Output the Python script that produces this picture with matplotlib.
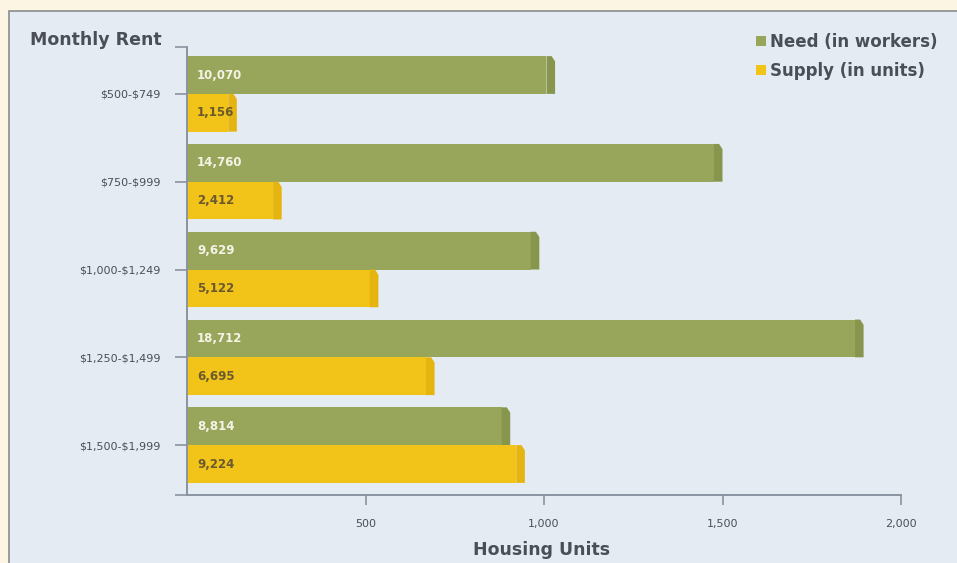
import matplotlib.pyplot as plt
from matplotlib.patches import Rectangle, Polygon, Patch

# данные с картинки
categories = ["$500-$749", "$750-$999", "$1,000-$1,249", "$1,250-$1,499", "$1,500-$1,999"]
need = [10070, 14760, 9629, 18712, 8814]
supply = [1156, 2412, 5122, 6695, 9224]
xticks = [500, 1000, 1500, 2000]
xtick_labels = ["500", "1,000", "1,500", "2,000"]

GREEN = "#97a65a"
GREEN_SIDE = "#87964c"
YELLOW = "#f2c318"
YELLOW_SIDE = "#e6b40f"
PANEL = "#e4ebf3"
TEXT = "#4a4f57"
AXIS = "#8a93a0"

plt.rcParams["font.family"] = ["DejaVu Sans"]
plt.rcParams["text.parse_math"] = False  # иначе $ превращается в mathtext

fig = plt.figure(figsize=(9.57, 5.63), dpi=100)
fig.patch.set_facecolor("#fdf5e4")
fig.patches.append(Rectangle((9 / 957, -0.1), 1.1, 1 - 11 / 563 + 0.1, transform=fig.transFigure,
                             facecolor=PANEL, edgecolor="#8c8c8c", lw=1.2, zorder=-5))

ax = fig.add_axes([187 / 957, 1 - 495 / 563, (901 - 187) / 957, (495 - 47) / 563])
ax.set_facecolor("none")

# в оригинале длина полосы = подпись / 10
scale = 10
depth = 24
h = 0.43
off = 0.215


def bar3d(y, val, face, side):
    w = val / scale
    ax.add_patch(Rectangle((0, y - h / 2), w, h, facecolor=face, edgecolor="none", zorder=2))
    ax.add_patch(Polygon([(w, y - h / 2), (w + depth * 0.6, y - h / 2), (w + depth, y - h / 2 + 0.06),
                          (w + depth, y + h / 2), (w, y + h / 2)],
                         closed=True, facecolor=side, edgecolor="none", zorder=2))


for i, (n, s) in enumerate(zip(need, supply)):
    bar3d(i - off, n, GREEN, GREEN_SIDE)
    bar3d(i + off, s, YELLOW, YELLOW_SIDE)
    ax.text(28, i - off, f"{n:,}", color="#f6f3e6", fontsize=8.5, fontweight="bold",
            va="center", ha="left", zorder=3)
    ax.text(28, i + off, f"{s:,}", color="#6a5a2e", fontsize=8.5, fontweight="bold",
            va="center", ha="left", zorder=3)

ax.set_xlim(0, 2000)
ax.set_ylim(4.568, -0.534)

ax.set_yticks(range(len(categories)))
ax.set_yticklabels(categories, fontsize=8, color=TEXT)
ax.set_yticks([-0.534, 4.568], minor=True)
ax.set_xticks(xticks)
ax.set_xticklabels(xtick_labels, fontsize=8, color=TEXT)

ax.tick_params(axis="y", which="both", length=9, width=1.2, color=AXIS, pad=10)
ax.tick_params(axis="x", length=7, width=1.2, color=AXIS, pad=10)

for side in ["top", "right"]:
    ax.spines[side].set_visible(False)
for side in ["left", "bottom"]:
    ax.spines[side].set_color(AXIS)
    ax.spines[side].set_linewidth(1.4)

fig.text(30 / 957, 1 - 40 / 563, "Monthly Rent", fontsize=12.5, fontweight="bold",
         color=TEXT, ha="left", va="center")
fig.text(542 / 957, 1 - 550 / 563, "Housing Units", fontsize=12.5, fontweight="bold",
         color=TEXT, ha="center", va="center")

handles = [Patch(facecolor=GREEN, edgecolor="none"), Patch(facecolor=YELLOW, edgecolor="none")]
fig.legend(handles, ["Need (in workers)", "Supply (in units)"], loc="upper right",
           bbox_to_anchor=(938 / 957, 1 - 33 / 563), frameon=False, handlelength=0.6,
           handleheight=0.6, handletextpad=0.25, labelspacing=0.65, borderaxespad=0,
           borderpad=0, prop={"size": 12, "weight": "bold"}, labelcolor=TEXT)

fig.savefig("out.png", dpi=100, facecolor=fig.get_facecolor())
